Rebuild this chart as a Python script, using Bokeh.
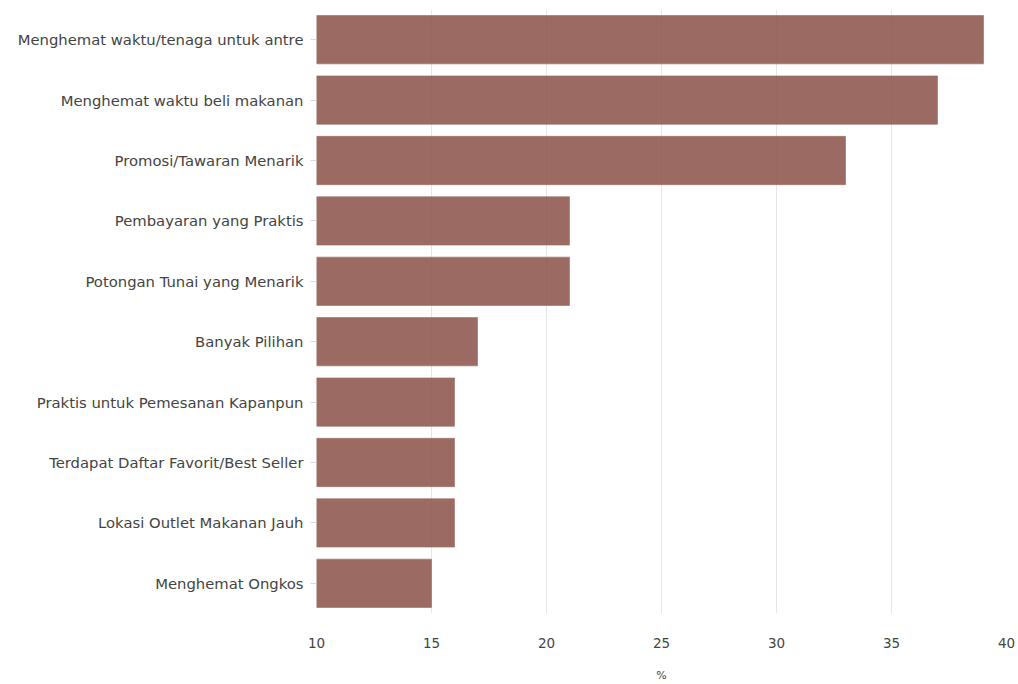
from bokeh.plotting import figure
from bokeh.models import Range1d, FactorRange, ColumnDataSource, FixedTicker
from bokeh.embed import file_html
from bokeh.resources import INLINE

categories = [
    "Menghemat waktu/tenaga untuk antre",
    "Menghemat waktu beli makanan",
    "Promosi/Tawaran Menarik",
    "Pembayaran yang Praktis",
    "Potongan Tunai yang Menarik",
    "Banyak Pilihan",
    "Praktis untuk Pemesanan Kapanpun",
    "Terdapat Daftar Favorit/Best Seller",
    "Lokasi Outlet Makanan Jauh",
    "Menghemat Ongkos",
]
values = [39, 37, 33, 21, 21, 17, 16, 16, 16, 15]
x_ticks = [10, 15, 20, 25, 30, 35, 40]

src = ColumnDataSource(dict(cat=categories, val=values))

p = figure(
    width=1018, height=684,
    y_range=FactorRange(factors=list(reversed(categories)), range_padding=0),
    x_range=Range1d(10, 40),
    output_backend="svg", toolbar_location=None,
    min_border_left=316, min_border_right=12, min_border_top=9, min_border_bottom=66,
)
p.hbar(y="cat", right="val", left=10, height=0.8, source=src,
       fill_color="#8a5047", fill_alpha=0.85, line_color="#9b6a62", line_alpha=0.6)

p.outline_line_color = None
p.ygrid.grid_line_color = None
p.xgrid.grid_line_color = "#e6e6e6"
p.xgrid.ticker = FixedTicker(ticks=x_ticks)

p.xaxis.ticker = FixedTicker(ticks=x_ticks)
p.xaxis.axis_line_color = None
p.xaxis.major_tick_line_color = None
p.xaxis.minor_tick_line_color = None
p.xaxis.major_label_standoff = 18
p.xaxis.major_label_text_font = "DejaVu Sans"
p.xaxis.major_label_text_font_size = "13.5px"
p.xaxis.major_label_text_color = "#444444"
p.xaxis.axis_label = "%"
p.xaxis.axis_label_text_font = "DejaVu Sans"
p.xaxis.axis_label_text_font_style = "normal"
p.xaxis.axis_label_text_font_size = "11px"
p.xaxis.axis_label_text_color = "#444444"
p.xaxis.axis_label_standoff = 18

p.yaxis.axis_line_color = None
p.yaxis.major_tick_line_color = "#d8d8d8"
p.yaxis.major_tick_in = 0
p.yaxis.major_tick_out = 6
p.yaxis.major_label_standoff = 7
p.yaxis.major_label_text_font = "DejaVu Sans"
p.yaxis.major_label_text_font_size = "14.8px"
p.yaxis.major_label_text_color = "#444444"

p.background_fill_color = "white"
p.border_fill_color = "white"

open("out.html", "w").write(file_html(p, INLINE))
